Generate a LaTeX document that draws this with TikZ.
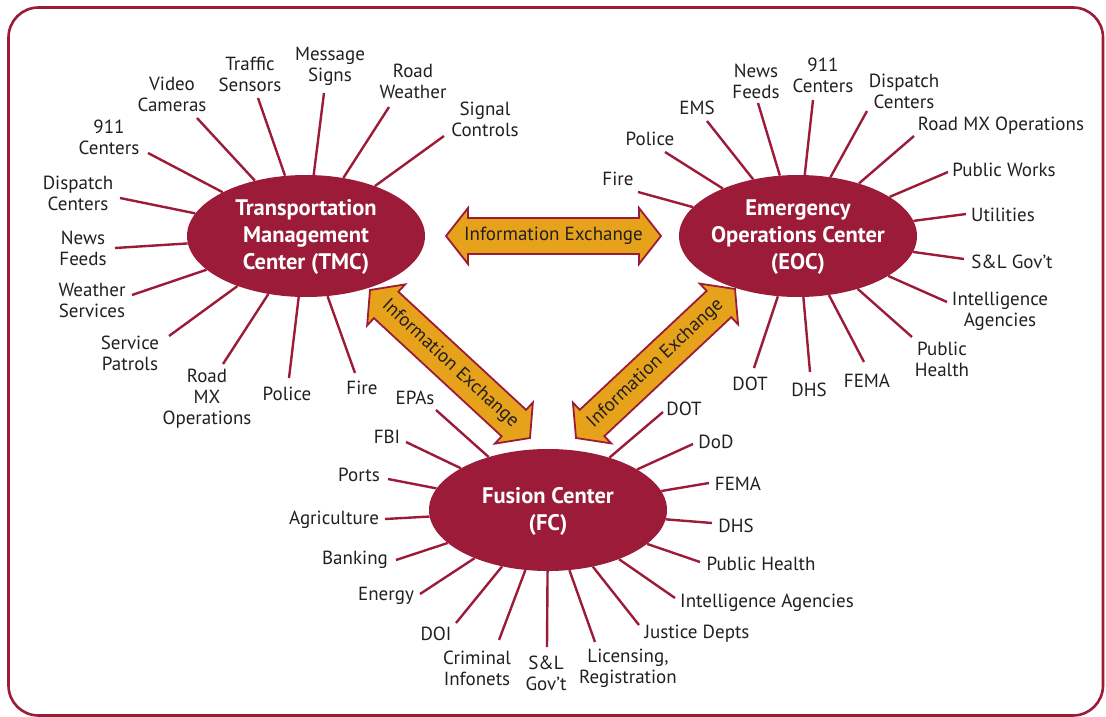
\documentclass[tikz,border=0pt]{standalone}
\usepackage{fontspec}
\setmainfont{PT Sans}
\usetikzlibrary{shapes.geometric,calc}
\definecolor{fcred}{HTML}{9B1B39}
\definecolor{gold}{HTML}{E6A21B}
\definecolor{ink}{HTML}{231F20}
\newcommand{\xchgarrow}[2]{%
  \coordinate (#1-h) at ($(#1)!22pt!(#2)$);
  \coordinate (#2-h) at ($(#2)!22pt!(#1)$);
  \filldraw[arrowbody] (#1) -- ($(#1-h)!28pt!90:(#2)$) -- ($(#1-h)!18pt!90:(#2)$)
    -- ($(#2-h)!18pt!-90:(#1)$) -- ($(#2-h)!28pt!-90:(#1)$) -- (#2)
    -- ($(#2-h)!28pt!90:(#1)$) -- ($(#2-h)!18pt!90:(#1)$)
    -- ($(#1-h)!18pt!-90:(#2)$) -- ($(#1-h)!28pt!-90:(#2)$) -- cycle;
  \path (#1) -- node[arrowtext, sloped] {Information Exchange} (#2);
}
\begin{document}
\begin{tikzpicture}[x=1pt,y=-1pt,
  hub/.style={ellipse, fill=fcred, minimum width=238pt, minimum height=122pt, inner sep=0pt},
  hubtext/.style={text=white, font=\fontsize{22.5}{27}\selectfont\bfseries, align=center, inner sep=0pt},
  lbl/.style={text=ink, font=\fontsize{19}{21}\selectfont, align=center, inner sep=0pt},
  spoke/.style={draw=fcred, line width=2.4pt},
  arrowbody/.style={fill=gold, draw=fcred, line width=1.8pt, line join=miter},
  arrowtext/.style={text=ink, font=\fontsize{19}{21}\selectfont, inner sep=0pt},
  frame/.style={draw=fcred, line width=2.6pt, rounded corners=30pt}]
\useasboundingbox (0,0) rectangle (1106,717);
\draw[frame] (8.5,7.5) rectangle (1103,715.5);

% hubs
\node[hub] (tmc) at (306,236) {};
\node[hub] (eoc) at (798,236) {};
\node[hub] (fc) at (548,510) {};
\node[hubtext] (tmct) at (306,237) {Transportation\\Management\\Center (TMC)};
\node[hubtext] (eoct) at (798,237) {Emergency\\Operations Center\\(EOC)};
\node[hubtext] (fct) at (548,511) {Fusion Center\\(FC)};

% exchange arrows
\coordinate (ax1) at (446,236); \coordinate (ax2) at (661,236);
\coordinate (al1) at (370,290); \coordinate (al2) at (530,438);
\coordinate (ar1) at (576,438); \coordinate (ar2) at (735,289);
\xchgarrow{ax1}{ax2}
\xchgarrow{al1}{al2}
\xchgarrow{ar1}{ar2}

% TMC spokes
\foreach \n/\lx/\ly/\ex/\ey/\txt in {
  t1/78/193/120/198/{Dispatch\\Centers},
  t2/109/137/148/153/{911\\Centers},
  t3/172/94/197/118/{Video\\Cameras},
  t4/250/74/258/98/{Traffic\\Sensors},
  t5/330/66/324/93/{Message\\Signs},
  t6/413/81/389/107/{Road\\Weather},
  t7/485/119/444/136/{Signal\\Controls},
  t8/83/248/115/248/{News\\Feeds},
  t9/92/300/132/295/{Weather\\Services},
  t10/130/353/169/336/{Service\\Patrols},
  t11/207/399/223/364/{Road\\MX\\Operations},
  t12/287/394/289/378/{Police},
  t13/362/388/355/373/{Fire}}{
  \node[lbl] (\n) at (\lx,\ly) {\txt};
  \coordinate (\n-end) at (\ex,\ey);
  \draw[spoke] (tmc) -- (\n-end);
}

% EOC spokes
\foreach \n/\lx/\ly/\ex/\ey/\txt in {
  e1/618/179/638/192/{Fire},
  e2/650/139/665/152/{Police},
  e3/697/108/707/121/{EMS},
  e4/756/81/758/103/{News\\Feeds},
  e5/823/75/813/100/{911\\Centers},
  e6/904/91/867/111/{Dispatch\\Centers},
  e7/1001/126/914/136/{Road MX Operations},
  e8/1004/170/948/172/{Public Works},
  e9/1003/215/966/214/{Utilities},
  e10/1012/262/964/259/{S\&L Gov’t},
  e11/1000/311/947/302/{Intelligence\\Agencies},
  e12/942/359/912/337/{Public\\Health},
  e13/867/381/864/362/{FEMA},
  e14/809/390/810/372/{DHS},
  e15/750/384/754/368/{DOT}}{
  \node[lbl] (\n) at (\lx,\ly) {\txt};
  \coordinate (\n-end) at (\ex,\ey);
  \draw[spoke] (eoc) -- (\n-end);
}

% FC spokes
\foreach \n/\lx/\ly/\ex/\ey/\txt in {
  f1/415/398/436/410/{EPAs},
  f2/387/437/406/442/{FBI},
  f3/359/475/388/479/{Ports},
  f4/334/520/385/519/{Agriculture},
  f5/355/560/396/560/{Banking},
  f6/386/596/420/594/{Energy},
  f7/436/634/456/623/{DOI},
  f8/477/668/499/640/{Criminal\\Infonets},
  f9/546/673/547/647/{S\&L\\Gov’t},
  f10/628/668/595/642/{Licensing,\\Registration},
  f11/697/634/639/625/{Justice Depts},
  f12/767/603/675/598/{Intelligence Agencies},
  f13/761/564/700/562/{Public Health},
  f14/736/526/712/523/{DHS},
  f15/738/484/709/483/{FEMA},
  f16/716/442/693/444/{DoD},
  f17/684/409/663/412/{DOT}}{
  \node[lbl] (\n) at (\lx,\ly) {\txt};
  \coordinate (\n-end) at (\ex,\ey);
  \draw[spoke] (fc) -- (\n-end);
}
\end{tikzpicture}
\end{document}
